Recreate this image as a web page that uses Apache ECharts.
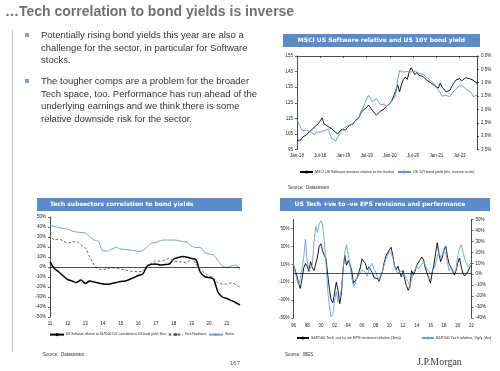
<!DOCTYPE html>
<html><head><meta charset="utf-8">
<script src="https://cdn.jsdelivr.net/npm/echarts@6/dist/echarts.min.js"></script>
<style>html,body{margin:0;padding:0;background:#fff}#c{width:500px;height:371px}</style>
</head><body><div id="c"></div>
<script>
// ---------- text ----------
const slideTitle = '\u2026Tech correlation to bond yields is inverse';
const bullet1 = ['Potentially rising bond yields this year are also a', 'challenge for the sector, in particular for Software', 'stocks.'];
const bullet2 = ['The tougher comps are a problem for the broader', 'Tech space, too. Performance has run ahead of the', 'underlying earnings and we think there is some', 'relative downside risk for the sector.'];
const titleA = 'MSCI US Software relative and US 10Y bond yield';
const titleB = 'Tech subsectors correlation to bond yields';
const titleC = 'US Tech +ve to -ve EPS revisions and performance';
const sourceA = 'Source:  Datastream';
const sourceB = 'Source:  Datastream';
const sourceC = 'Source:  IBES';
const pageNo = '167';
const brand = 'J.P.Morgan';

// ---------- chart A: semi-monthly Jan-18 .. Nov-21 ----------
const monthsA = ['Jan','Feb','Mar','Apr','May','Jun','Jul','Aug','Sep','Oct','Nov','Dec'];
const datesA = [];
for (let y = 2018; y <= 2021; y++) for (let m = 0; m < 12; m++) {
  if (y === 2021 && m > 10) break;
  datesA.push(monthsA[m] + '-' + String(y).slice(2) + '|a', monthsA[m] + '-' + String(y).slice(2) + '|b');
}
const nameA1 = 'MSCI US Software services relative to the market';
const nameA2 = 'US 10Y bond yield (rhs, reverse scale)';
const softwareRel = [100.8,101.5, 101.2,103, 103.5,104.5, 106,105, 108,109.5, 109,111.5, 112,115.3, 111.5,110.5, 109.8,109, 108.3,107, 107.5,105, 104.8,107.8,
  108.5,107.5, 109,110.5, 110,111.5, 113.5,112.8, 115.5,118.5, 120,121, 122,123.5, 122.5,120, 120.5,117, 116,119.5, 119,121, 122.5,121.5,
  124.5,126.5, 129.5,133, 136.5,132, 137,140, 141.5,140, 145,147.5, 145,143, 144.5,142.5, 143.5,142, 141,139.5, 139,138, 138.5,136,
  136.5,134.5, 137.5,135, 133.5,132, 131,133, 135.5,137.5, 139.5,138.5, 140.5,139, 140,141, 142,140.5, 141.5,139.5, 140.5,137.5];
const bondYield = [2.38,2.55, 2.68,2.8, 2.82,2.78, 2.74,2.85, 2.92,2.95, 2.85,2.8, 2.84,2.9, 2.8,2.75, 2.74,2.9, 3.1,3.15, 3.18,3.05, 2.9,2.8,
  2.7,2.66, 2.62,2.6, 2.57,2.5, 2.45,2.42, 2.3,2.08, 1.95,1.78, 1.6,1.48, 1.55,1.72, 1.65,1.6, 1.7,1.82, 1.85,1.8, 1.9,1.95,
  1.78,1.68, 1.6,1.45, 0.9,0.55, 0.62,0.6, 0.62,0.58, 0.64,0.6, 0.58,0.56, 0.6,0.66, 0.64,0.68, 0.74,0.8, 0.86,0.92, 0.98,1.05,
  1.12,1.28, 1.38,1.5, 1.55,1.48, 1.46,1.52, 1.42,1.35, 1.25,1.2, 1.1,1.08, 1.15,1.2, 1.28,1.3, 1.36,1.52, 1.55,1.47];

// ---------- chart B: quarterly 2011Q1 .. 2021Q4 ----------
const quartersB = [];
for (let y = 2011; y <= 2021; y++) for (let q = 1; q <= 4; q++) quartersB.push(y + 'Q' + q);
const nameB1 = 'US Software relative to S&P500 10Y correlation to US bond yield, 3ma';
const nameB2 = 'Tech Hardware';
const nameB3 = 'Semis';
const corrSoftware = [5,-1.5,-5,-9,-12.5,-14,-15.5,-13,-16.5,-14,-15,-16,-17,-17.2,-16.4,-15.5,-14.5,-14,-12.5,-10.5,-8.5,-7,1,2.8,3,2,2.5,3,8,9.5,10.4,9.8,8.5,7.5,-5,-9.5,-10.5,-12,-25,-30,-31.5,-33.5,-35.5,-38];
const corrHardware = [33,27,28,26,24,25,25.5,22,19,10,2,-2,-2.5,-1.5,-1,-1,-2,-3,-4,-4.5,-4.7,-4,1,4,6,6,7,8.5,6,5.5,5,4,9,3,-2,-6,-9,-11,-16,-17,-17,-16,-17.5,-20.5];
const corrSemis = [42,40.5,39.5,38.5,38,36,35,34.5,34,30,27,25.5,16,16,18,19.5,18,17.5,17,16.5,15.5,16.5,20,24,24.5,26.5,27,27,27,26.5,25.5,25,21,19.5,19.5,14.5,13,12,6.5,1,-0.5,1,2,-3];

// ---------- chart C: quarterly 1996Q1 .. 2022Q1 ----------
const quartersC = [];
for (let y = 1996; y <= 2022; y++) for (let q = 1; q <= 4; q++) { if (y === 2022 && q > 1) break; quartersC.push(y + 'Q' + q); }
const nameC1 = 'S&P500 Tech +ve to -ve EPS revisions relative (3ma)';
const nameC2 = 'S&P500 Tech relative, %y/y (rhs)';
const epsRevisions = [9,3,-3,-12,-17,-6,6,11,8,2, 13,6,3,4,18,30,33,25,20,16, -2,-18,-30,-33,-22,-10,-19,-34,-22,5,
  20,9,14,10,3,-11,-9,-6,-4,6, 16,14,11,4,7,9,1,-5,-7,-6, -9,-3,2,12,19,23,26,29,20,8, 4,8,1,-4,3,-7,-14,-19,-15,3,
  -2,2,9,11,15,18,15,6,0,-5, -11,0,9,22,34,21,13,18,27,30, 18,10,7,5,-2,3,12,17,7,0, -3,-5,2,7,9];
const techRelYoY = [10,2,-5,-10,-4,5,16,32,12,4, 6,9,30,44,38,46,49,45,30,10, -15,-30,-39,-37,-24,-16,-25,-22,-14,5,
  20,27,18,8,-2,-11,-9,-4,-1,1, 4,5,2,-2,4,8,10,5,2,-2, -5,-1,3,9,14,17,21,20,16,8, 3,1,1,3,3,-1,-4,-7,-10,-5,
  1,4,8,5,6,9,12,8,5,3, 0,1,5,9,16,21,15,18,23,18, 10,3,7,4,1,5,17,24,27,26, 14,10,7,8,11];

// ---------- option ----------
const FF = 'Liberation Sans, Arial, sans-serif';
const lab = {fontSize: 4.5, color: '#222', fontFamily: FF};
const axLine = {show: true, lineStyle: {color: '#000', width: 0.7}};
const tick = {show: true, length: 2, lineStyle: {color: '#000', width: 0.6}};
const pct = v => v + '%';

const chart = echarts.init(document.getElementById('c'), null, {renderer: 'canvas'});
chart.setOption({
  backgroundColor: '#fff',
  animation: false,
  grid: [
    {left: 297, top: 56, width: 180, height: 93.5},
    {left: 50, top: 217, width: 190, height: 100},
    {left: 293.5, top: 219.5, width: 178, height: 98.5}
  ],
  xAxis: [
    {gridIndex: 0, type: 'category', data: datesA, boundaryGap: false, axisLine: axLine,
      axisTick: Object.assign({}, tick, {interval: 11}),
      axisLabel: Object.assign({}, lab, {interval: 11, margin: 4, formatter: v => v.split('|')[0]})},
    {gridIndex: 1, type: 'category', data: quartersB, boundaryGap: false, axisLine: {show: false},
      axisTick: {show: false},
      axisLabel: Object.assign({}, lab, {interval: 3, margin: 4, formatter: v => v.slice(2, 4)})},
    {gridIndex: 2, type: 'category', data: quartersC, boundaryGap: false, axisLine: {show: false},
      axisTick: {show: false},
      axisLabel: Object.assign({}, lab, {interval: 7, margin: 5, formatter: v => v.slice(2, 4)})}
  ],
  yAxis: [
    {gridIndex: 0, type: 'value', min: 95, max: 155, interval: 10, axisLine: axLine, axisTick: tick,
      splitLine: {show: false}, axisLabel: Object.assign({}, lab, {margin: 4})},
    {gridIndex: 0, type: 'value', position: 'right', inverse: true, min: 0, max: 3.5, interval: 0.5,
      axisLine: axLine, axisTick: tick, splitLine: {show: false},
      axisLabel: Object.assign({}, lab, {margin: 4, formatter: v => v.toFixed(1) + '%'})},
    {gridIndex: 1, type: 'value', min: -50, max: 50, interval: 10, axisLine: axLine, axisTick: tick,
      splitLine: {show: false}, axisLabel: Object.assign({}, lab, {margin: 4, formatter: pct})},
    {gridIndex: 2, type: 'value', min: -50, max: 60, interval: 20, axisLine: axLine, axisTick: tick,
      splitLine: {show: false}, axisLabel: Object.assign({}, lab, {margin: 4, showMaxLabel: false, formatter: v => v === 60 ? '' : v + '%'})},
    {gridIndex: 2, type: 'value', position: 'right', min: -40, max: 50, interval: 10, axisLine: axLine, axisTick: tick,
      splitLine: {show: false}, axisLabel: Object.assign({}, lab, {margin: 4, formatter: pct})}
  ],
  legend: [
    {data: [nameA1, nameA2], left: 299, top: 170, width: 200, itemWidth: 13, itemHeight: 4, itemGap: 3, padding: 0,
      textStyle: {fontSize: 3.6, color: '#222', fontFamily: FF, padding: [0, 0, 0, -3]}},
    {data: [nameB1, nameB2, nameB3], left: 49, top: 333, width: 220, itemWidth: 14, itemHeight: 4, itemGap: 2, padding: 0,
      textStyle: {fontSize: 3.2, color: '#222', fontFamily: FF, padding: [0, 0, 0, -3]}},
    {data: [nameC1, nameC2], left: 296, top: 336, width: 200, itemWidth: 12, itemHeight: 4, itemGap: 20, padding: 0,
      textStyle: {fontSize: 3.8, color: '#222', fontFamily: FF, padding: [0, 0, 0, -3]}}
  ],
  series: [
    {name: nameA1, type: 'line', xAxisIndex: 0, yAxisIndex: 0, data: softwareRel, symbol: 'none',
      lineStyle: {color: '#000', width: 0.9}, itemStyle: {color: '#000'}},
    {name: nameA2, type: 'line', xAxisIndex: 0, yAxisIndex: 1, data: bondYield, symbol: 'none',
      lineStyle: {color: '#5f93cc', width: 0.9}, itemStyle: {color: '#5f93cc'}},
    {name: nameB1, type: 'line', xAxisIndex: 1, yAxisIndex: 2, data: corrSoftware, symbol: 'none', smooth: 0.3,
      lineStyle: {color: '#000', width: 1.5}, itemStyle: {color: '#000'},
      markLine: {silent: true, symbol: 'none', label: {show: false}, lineStyle: {color: '#000', width: 0.7, type: 'solid'}, data: [{yAxis: 0}]}},
    {name: nameB2, type: 'line', xAxisIndex: 1, yAxisIndex: 2, data: corrHardware, symbol: 'none', smooth: 0.3,
      lineStyle: {color: '#555', width: 0.9, type: [2.5, 2]}, itemStyle: {color: '#555'}},
    {name: nameB3, type: 'line', xAxisIndex: 1, yAxisIndex: 2, data: corrSemis, symbol: 'none', smooth: 0.3,
      lineStyle: {color: '#7a9fcf', width: 1}, itemStyle: {color: '#7a9fcf'}},
    {name: nameC1, type: 'line', xAxisIndex: 2, yAxisIndex: 3, data: epsRevisions, symbol: 'none',
      lineStyle: {color: '#000', width: 0.9}, itemStyle: {color: '#000'},
      markLine: {silent: true, symbol: 'none', label: {show: false}, lineStyle: {color: '#000', width: 0.7, type: 'solid'}, data: [{yAxis: 0}]}},
    {name: nameC2, type: 'line', xAxisIndex: 2, yAxisIndex: 4, data: techRelYoY, symbol: 'none',
      lineStyle: {color: '#6ba2d6', width: 0.9}, itemStyle: {color: '#6ba2d6'}}
  ],
  graphic: [
    {type: 'text', left: 5, top: 5, style: {text: slideTitle, font: 'bold 14px ' + FF, fill: '#707070'}},
    {type: 'line', shape: {x1: 12.5, y1: 30, x2: 12.5, y2: 352}, style: {stroke: '#c6c6c6', lineWidth: 1.2}},
    {type: 'rect', shape: {x: 25, y: 33, width: 4, height: 4}, style: {fill: '#8c9cc4'}},
    {type: 'rect', shape: {x: 25, y: 79, width: 4, height: 4}, style: {fill: '#8c9cc4'}},
    {type: 'text', left: 41, top: 29, style: {text: bullet1.join('\n'), font: '9.5px ' + FF, lineHeight: 12.7, fill: '#333'}},
    {type: 'text', left: 41, top: 75, style: {text: bullet2.join('\n'), font: '9.5px ' + FF, lineHeight: 12.6, fill: '#333'}},
    {type: 'rect', shape: {x: 283, y: 34, width: 197, height: 13}, style: {fill: '#5b8bc9'}},
    {type: 'text', x: 381.5, y: 40.5, style: {text: titleA, font: 'bold 6px DejaVu Sans', fill: '#fff', align: 'center', verticalAlign: 'middle'}},
    {type: 'rect', shape: {x: 37, y: 198, width: 205, height: 13}, style: {fill: '#5b8bc9'}},
    {type: 'text', x: 50, y: 204.5, style: {text: titleB, font: 'bold 6px DejaVu Sans', fill: '#fff', align: 'left', verticalAlign: 'middle'}},
    {type: 'rect', shape: {x: 280, y: 198, width: 210, height: 13}, style: {fill: '#5b8bc9'}},
    {type: 'text', x: 380, y: 204.5, style: {text: titleC, font: 'bold 6px DejaVu Sans', fill: '#fff', align: 'center', verticalAlign: 'middle'}},
    {type: 'text', left: 288, top: 185, style: {text: sourceA, font: '4.5px ' + FF, fill: '#333'}},
    {type: 'text', left: 43, top: 352, style: {text: sourceB, font: '4.5px ' + FF, fill: '#333'}},
    {type: 'text', left: 285, top: 352, style: {text: sourceC, font: '4.5px ' + FF, fill: '#333'}},
    {type: 'text', left: 230, top: 360, style: {text: pageNo, font: '6px ' + FF, fill: '#555'}},
    {type: 'text', left: 417, top: 357, style: {text: brand, font: '10px Liberation Serif, DejaVu Serif, serif', fill: '#3a3a3a'}}
  ]
});
</script></body></html>
